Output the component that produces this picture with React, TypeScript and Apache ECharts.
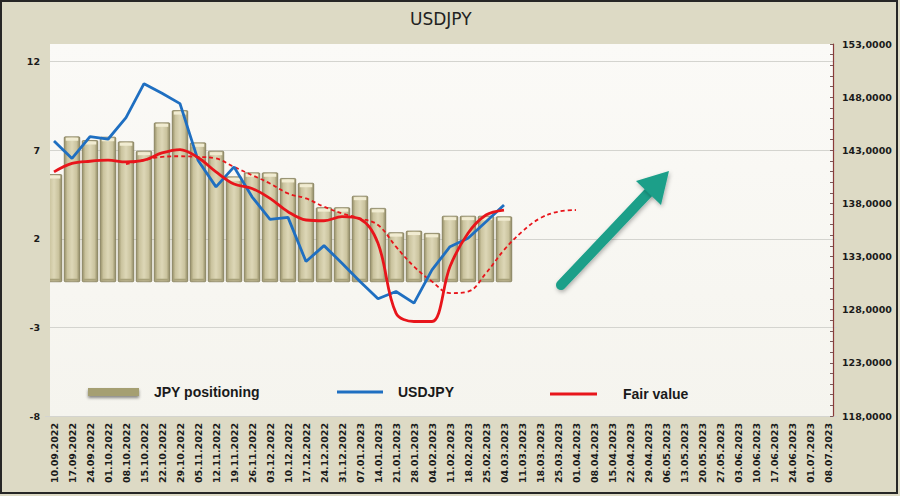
import React, { useEffect, useRef } from 'react';
import * as echarts from 'echarts';

const categories = [
  '10.09.2022', '17.09.2022', '24.09.2022', '01.10.2022', '08.10.2022', '15.10.2022',
  '22.10.2022', '29.10.2022', '05.11.2022', '12.11.2022', '19.11.2022', '26.11.2022',
  '03.12.2022', '10.12.2022', '17.12.2022', '24.12.2022', '31.12.2022', '07.01.2023',
  '14.01.2023', '21.01.2023', '28.01.2023', '04.02.2023', '11.02.2023', '18.02.2023',
  '25.02.2023', '04.03.2023', '11.03.2023', '18.03.2023', '25.03.2023', '01.04.2023',
  '08.04.2023', '15.04.2023', '22.04.2023', '29.04.2023', '06.05.2023', '13.05.2023',
  '20.05.2023', '27.05.2023', '03.06.2023', '10.06.2023', '17.06.2023', '24.06.2023',
  '01.07.2023', '08.07.2023',
];

// JPY positioning (left axis)
const positioning = [
  5.63, 7.76, 7.55, 7.74, 7.48, 6.95, 8.55, 9.24, 7.42, 6.95, 5.5, 5.73, 5.73,
  5.41, 5.14, 3.76, 3.76, 4.41, 3.72, 2.35, 2.44, 2.31, 3.28, 3.28, 3.28, 3.25,
];

// USDJPY (right axis)
const usdjpy = [
  143.88, 142.23, 144.29, 144.04, 146.07, 149.27, 148.36, 147.39, 142.07, 139.56,
  141.44, 138.62, 136.5, 136.69, 132.53, 134.03, 132.38, 130.65, 129.03, 129.71,
  128.62, 131.75, 133.93, 134.72, 136.28, 137.85,
];

// Fair value (right axis)
const fairValue = [
  140.97, 141.76, 141.97, 142.07, 141.91, 142.07, 142.75, 143.07, 142.32, 140.97,
  139.82, 139.41, 138.47, 137.22, 136.44, 136.37, 136.75, 136.53, 134.25, 127.68,
  126.89, 126.89, 132.06, 135.19, 136.91, 137.38,
];

// Fair value trend, dashed (right axis)
const fairValueTrend = [
  null, null, null, null, 141.69, 142.07, 142.38, 142.44, 142.38, 142.23, 141.44,
  140.66, 139.88, 138.94, 138.47, 137.69, 137.07, 136.6, 135.97, 133.93, 132.06,
  130.65, 129.56, 129.71, 131.44, 133.62, 135.34, 136.6, 137.22, 137.38,
];

const leftTicks = { min: -8, max: 13, step: 5 };
const rightTicks = { min: 118, max: 153, step: 5 };

const BAR_BASE = -0.42;
const FONT = 'DejaVu Sans';

export default function App() {
  const ref = useRef<HTMLDivElement>(null);

  useEffect(() => {
    const chart = echarts.init(ref.current!, null, { renderer: 'svg' });

    const barFill = new echarts.graphic.LinearGradient(0, 0, 1, 0, [
      { offset: 0, color: '#968f67' },
      { offset: 0.2, color: '#cac39e' },
      { offset: 0.5, color: '#ddd7b7' },
      { offset: 0.8, color: '#cac39e' },
      { offset: 1, color: '#8f8862' },
    ]);

    const transparent = 'rgba(0,0,0,0)';

    const option: any = {
      animation: false,
      backgroundColor: '#dddac5',
      title: {
        text: 'USDJPY',
        left: 410,
        top: 10,
        padding: 0,
        textStyle: { fontFamily: FONT, fontSize: 17, fontWeight: 'normal', color: '#222' },
      },
      grid: { left: 45, top: 44, width: 792, height: 372 },
      legend: [
        {
          data: [{ name: 'JPY positioning', icon: 'rect' }],
          left: 88, top: 385, padding: 0,
          itemWidth: 51, itemHeight: 8,
          itemStyle: { color: '#a59f72', shadowBlur: 3, shadowColor: 'rgba(0,0,0,0.45)', shadowOffsetY: 2 },
          textStyle: { fontFamily: 'Liberation Sans', fontSize: 14, fontWeight: 'bold', color: '#1a1a1a', padding: [0, 0, 0, 10] },
        },
        {
          data: [{ name: 'USDJPY', icon: 'rect' }],
          left: 337, top: 385, padding: 0,
          itemWidth: 46, itemHeight: 3,
          textStyle: { fontFamily: 'Liberation Sans', fontSize: 14, fontWeight: 'bold', color: '#1a1a1a', padding: [0, 0, 0, 10] },
        },
        {
          data: [{ name: 'Fair value', icon: 'rect' }],
          left: 550, top: 387, padding: 0,
          itemWidth: 47, itemHeight: 3,
          textStyle: { fontFamily: 'Liberation Sans', fontSize: 14, fontWeight: 'bold', color: '#1a1a1a', padding: [0, 0, 0, 21] },
        },
      ],
      xAxis: {
        type: 'category',
        data: categories,
        boundaryGap: true,
        axisLine: { show: false },
        axisTick: { show: false },
        axisLabel: {
          interval: 0, rotate: 90, margin: 7,
          fontFamily: FONT, fontSize: 9.5, fontWeight: 'bold', color: '#1a1a1a',
        },
      },
      yAxis: [
        {
          type: 'value',
          min: leftTicks.min, max: leftTicks.max, interval: 1,
          axisLine: { show: false },
          axisTick: { show: false },
          splitLine: {
            show: true,
            lineStyle: { color: ['#d4d4cf', transparent, transparent, transparent, transparent], width: 1 },
          },
          axisLabel: {
            margin: 5,
            fontFamily: FONT, fontSize: 9.5, fontWeight: 'bold', color: '#1a1a1a',
            formatter: (v: number) =>
              ((((v - leftTicks.min) % leftTicks.step) + leftTicks.step) % leftTicks.step === 0 && v < leftTicks.max)
                ? String(v) : '',
          },
        },
        {
          type: 'value',
          position: 'right',
          offset: -4,
          min: rightTicks.min, max: rightTicks.max, interval: 1,
          axisLine: { show: true, onZero: false, lineStyle: { color: '#8a3a3a', width: 1.2 } },
          axisTick: { show: true, inside: true, length: 3, lineStyle: { color: '#7a5a5a', width: 1 } },
          splitLine: { show: false },
          axisLabel: {
            margin: 9,
            fontFamily: FONT, fontSize: 9.5, fontWeight: 'bold', color: '#1a1a1a',
            formatter: (v: number) =>
              ((v - rightTicks.min) % rightTicks.step === 0) ? v.toFixed(4).replace('.', ',') : '',
          },
        },
      ],
      series: [
        {
          name: 'JPY positioning',
          type: 'custom',
          xAxisIndex: 0,
          yAxisIndex: 0,
          itemStyle: { color: '#a59f72' },
          encode: { x: 0, y: 1 },
          data: positioning.map((v, i) => [i, v]),
          renderItem: (params: any, api: any) => {
            const idx = api.value(0);
            const v = api.value(1);
            const top = api.coord([idx, v]);
            const base = api.coord([idx, BAR_BASE]);
            const w = api.size([1, 0])[0] * 0.86;
            const x = top[0] - w / 2;
            const y = top[1];
            const h = base[1] - top[1];
            return {
              type: 'group',
              children: [
                {
                  type: 'rect',
                  shape: { x, y, width: w, height: h, r: 1 },
                  style: { fill: barFill, stroke: '#827b58', lineWidth: 0.8 },
                },
                {
                  type: 'rect',
                  shape: { x: x + 1.5, y: y + 1, width: w - 3, height: 3 },
                  style: { fill: '#f1ecd2' },
                },
                {
                  type: 'rect',
                  shape: { x: x + 1, y: y + h - 3, width: w - 2, height: 2 },
                  style: { fill: '#a8a17a' },
                },
              ],
            };
          },
        },
        {
          name: 'Fair value trend',
          type: 'line',
          yAxisIndex: 1,
          data: fairValueTrend,
          smooth: 0.4,
          showSymbol: false,
          symbol: 'none',
          lineStyle: { color: '#e8151b', width: 1.8, type: [4, 3] },
          z: 3,
        },
        {
          name: 'USDJPY',
          type: 'line',
          yAxisIndex: 1,
          data: usdjpy,
          showSymbol: false,
          symbol: 'none',
          itemStyle: { color: '#1f6fc1' },
          lineStyle: { color: '#1f6fc1', width: 2.8 },
          z: 4,
        },
        {
          name: 'Fair value',
          type: 'line',
          yAxisIndex: 1,
          data: fairValue,
          smooth: 0.35,
          showSymbol: false,
          symbol: 'none',
          itemStyle: { color: '#e8151b' },
          lineStyle: { color: '#e8151b', width: 2.8 },
          z: 5,
        },
      ],
      graphic: [
        {
          type: 'rect', z: -10, silent: true,
          shape: { x: 50, y: 44, width: 783, height: 372 },
          style: {
            fill: new echarts.graphic.LinearGradient(0, 0, 0, 1, [
              { offset: 0, color: '#fbfaf7' },
              { offset: 1, color: '#f5f4ee' },
            ]),
          },
        },
        {
          type: 'rect', z: 100, silent: true,
          shape: { x: 44, y: 44, width: 6, height: 372 },
          style: { fill: '#dddac5' },
        },
        {
          type: 'line', z: 50, silent: true,
          shape: { x1: 561, y1: 285, x2: 650, y2: 191 },
          style: { stroke: '#1b9f89', lineWidth: 10, lineCap: 'round', shadowBlur: 4, shadowColor: 'rgba(0,0,0,0.3)', shadowOffsetX: 1, shadowOffsetY: 2 },
        },
        {
          type: 'polygon', z: 51, silent: true,
          shape: { points: [[669, 171], [636, 181], [661, 205]] },
          style: { fill: '#1b9f89', shadowBlur: 4, shadowColor: 'rgba(0,0,0,0.3)', shadowOffsetX: 1, shadowOffsetY: 2 },
        },
        {
          type: 'rect', z: 200, silent: true,
          shape: { x: 1, y: 1, width: 896, height: 492 },
          style: { fill: 'none', stroke: '#262626', lineWidth: 2 },
        },
      ],
    };

    chart.setOption(option);
    return () => chart.dispose();
  }, []);

  return (
    <div
      ref={ref}
      style={{ position: 'fixed', left: 0, top: 0, width: 900, height: 496 }}
    />
  );
}
